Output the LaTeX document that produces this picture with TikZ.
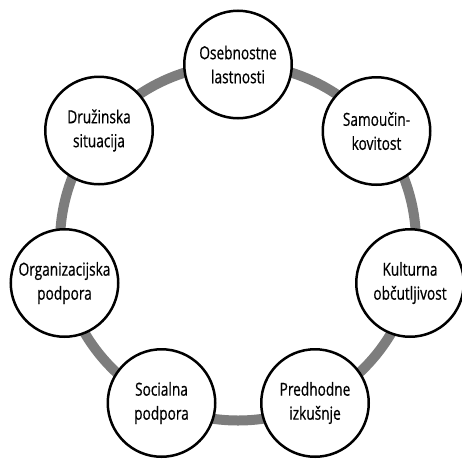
\documentclass[tikz,border=0pt]{standalone}
\usepackage{fontspec}
\setmainfont{Open Sans}[FakeStretch=0.76,FakeBold=0.6]
\definecolor{ringgray}{RGB}{125,125,125}
\begin{document}
\begin{tikzpicture}[x=1pt,y=-1pt,
  factor/.style={circle,draw=black,line width=2.5pt,fill=white,minimum size=107.5pt,inner sep=0pt,align=center,font=\fontsize{18}{24}\selectfont},
  ring/.style={draw=ringgray,line width=10pt}]
\useasboundingbox (0,0) rectangle (462,458);
\coordinate (c) at (238,242.5);
\draw[ring] (c) circle[radius=178];
\node[factor] (n1) at (238,64.5) {Osebnostne\\lastnosti};
\node[factor] (n2) at (376.5,131) {Samoučin-\\kovitost};
\node[factor] (n3) at (410,283) {Kulturna\\občutljivost};
\node[factor] (n4) at (315,403) {Predhodne\\izkušnje};
\node[factor] (n5) at (161.5,403) {Socialna\\podpora};
\node[factor] (n6) at (64.5,283) {Organizacijska\\podpora};
\node[factor] (n7) at (99,130.5) {Družinska\\situacija};
\end{tikzpicture}
\end{document}
